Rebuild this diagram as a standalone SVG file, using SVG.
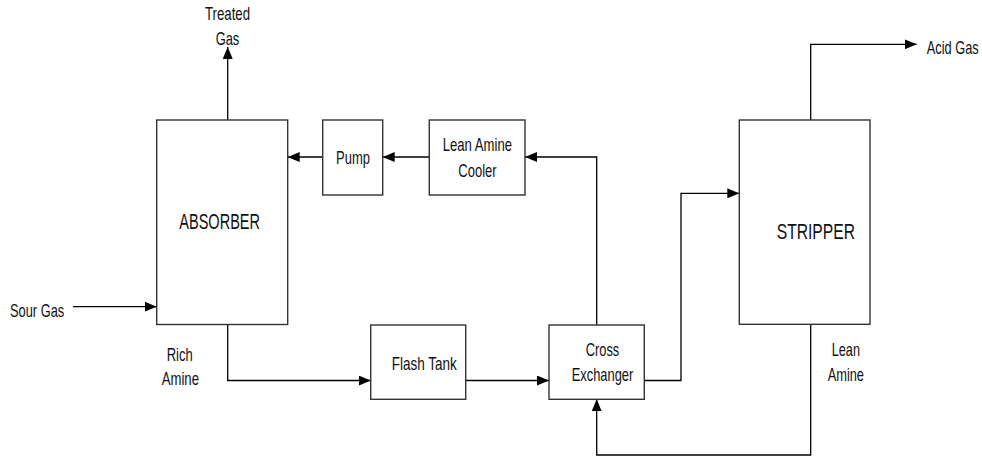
<svg xmlns="http://www.w3.org/2000/svg" width="982" height="457" viewBox="0 0 982 457">
<style>
  .box { fill: #ffffff; stroke: #333333; stroke-width: 1.4; }
  .line { fill: none; stroke: #000000; stroke-width: 1.3; }
  text { font-family: "Liberation Sans", Arial, sans-serif; fill: #111111; }
  .lbl { font-size: 18.5px; }
  .big { font-size: 22px; }
</style>
<defs>
  <marker id="arr" markerUnits="userSpaceOnUse" markerWidth="12" markerHeight="10" refX="12" refY="5" orient="auto">
    <path d="M0,0 L12,5 L0,10 Z" fill="#000000"/>
  </marker>
</defs>
<rect width="982" height="457" fill="#ffffff"/>

<g id="connectors">
  <path class="line" d="M227.7,120 V47" marker-end="url(#arr)"/>
  <path class="line" d="M322.7,157 H287.7" marker-end="url(#arr)"/>
  <path class="line" d="M429.3,157 H382.7" marker-end="url(#arr)"/>
  <path class="line" d="M596.7,325 V157 H525" marker-end="url(#arr)"/>
  <path class="line" d="M73,306.7 H156.7" marker-end="url(#arr)"/>
  <path class="line" d="M227.7,324.5 V380.5 H370.7" marker-end="url(#arr)"/>
  <path class="line" d="M465.7,380.5 H549" marker-end="url(#arr)"/>
  <path class="line" d="M644.3,380.5 H681 V193.3 H739.3" marker-end="url(#arr)"/>
  <path class="line" d="M810.7,120 V44.3 H916.7" marker-end="url(#arr)"/>
  <path class="line" d="M810.7,324.3 V455 H596.7 V399.3" marker-end="url(#arr)"/>
</g>

<g id="absorber">
  <rect class="box" x="156.7" y="120" width="131" height="204.5"/>
  <text class="big" x="179.3" y="229" textLength="80.7" lengthAdjust="spacingAndGlyphs">ABSORBER</text>
</g>
<g id="pump">
  <rect class="box" x="322.7" y="120" width="60" height="75"/>
  <text class="lbl" x="336" y="163.5" textLength="34" lengthAdjust="spacingAndGlyphs">Pump</text>
</g>
<g id="cooler">
  <rect class="box" x="429.3" y="120" width="95.7" height="75"/>
  <text class="lbl" x="442.7" y="151" textLength="69.3" lengthAdjust="spacingAndGlyphs">Lean Amine</text>
  <text class="lbl" x="458.3" y="176.5" textLength="38.3" lengthAdjust="spacingAndGlyphs">Cooler</text>
</g>
<g id="flash">
  <rect class="box" x="370.7" y="325" width="95" height="74.3"/>
  <text class="lbl" x="391.7" y="369.5" textLength="65" lengthAdjust="spacingAndGlyphs">Flash Tank</text>
</g>
<g id="cross">
  <rect class="box" x="549" y="325" width="95.3" height="74.3"/>
  <text class="lbl" x="585.7" y="355.5" textLength="33.6" lengthAdjust="spacingAndGlyphs">Cross</text>
  <text class="lbl" x="571.7" y="381" textLength="61.6" lengthAdjust="spacingAndGlyphs">Exchanger</text>
</g>
<g id="stripper">
  <rect class="box" x="739.3" y="120" width="130.7" height="204.3"/>
  <text class="big" x="776.7" y="238.5" textLength="78.3" lengthAdjust="spacingAndGlyphs">STRIPPER</text>
</g>

<g id="labels">
  <text class="lbl" x="205" y="20" textLength="45" lengthAdjust="spacingAndGlyphs">Treated</text>
  <text class="lbl" x="215.7" y="45" textLength="23.6" lengthAdjust="spacingAndGlyphs">Gas</text>
  <text class="lbl" x="10" y="316.5" textLength="54.3" lengthAdjust="spacingAndGlyphs">Sour Gas</text>
  <text class="lbl" x="166.7" y="361" textLength="26" lengthAdjust="spacingAndGlyphs">Rich</text>
  <text class="lbl" x="161.7" y="384.5" textLength="37.3" lengthAdjust="spacingAndGlyphs">Amine</text>
  <text class="lbl" x="926.7" y="54" textLength="52" lengthAdjust="spacingAndGlyphs">Acid Gas</text>
  <text class="lbl" x="831.7" y="355.5" textLength="28.3" lengthAdjust="spacingAndGlyphs">Lean</text>
  <text class="lbl" x="827.7" y="380.5" textLength="36.3" lengthAdjust="spacingAndGlyphs">Amine</text>
</g>
</svg>
